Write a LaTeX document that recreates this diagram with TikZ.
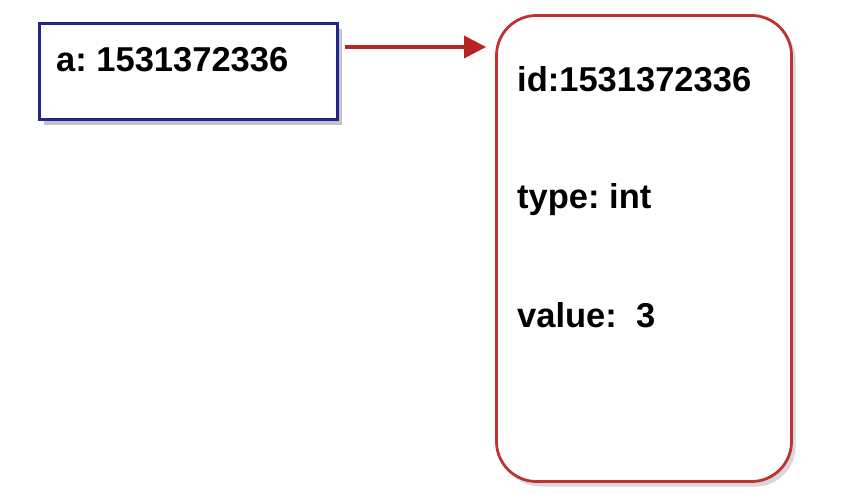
\documentclass[tikz,border=0pt]{standalone}
\usepackage{fontspec}
\setmainfont{Liberation Sans}
\frenchspacing
\usepackage{tikz}
\usetikzlibrary{shadows}
\usetikzlibrary{arrows.meta}

\definecolor{varblue}{RGB}{35,35,140}
\definecolor{objred}{RGB}{190,50,50}
\definecolor{linkred}{RGB}{185,35,35}

\begin{document}
\begin{tikzpicture}[x=1pt,y=1pt,
    every node/.style={font=\fontsize{34.5}{40}\selectfont\bfseries},
    varbox/.style={draw=varblue,line width=3pt,fill=white,minimum width=298pt,minimum height=96pt,
      drop shadow={shadow xshift=5pt,shadow yshift=-5pt,fill=black!45}},
    objbox/.style={draw=objred,line width=2.8pt,fill=white,rounded corners=40pt,minimum width=295pt,minimum height=466pt,
      drop shadow={shadow xshift=4pt,shadow yshift=-5pt,fill=black!30}},
    field/.style={anchor=base west,inner sep=0pt},
    link/.style={draw=linkred,line width=3.5pt,-{Triangle[length=22pt,width=22pt]}}]
      \useasboundingbox (0,0) rectangle (848,-502);
      \node[varbox] (var) at (188,-72) {};
      \node[objbox] (obj) at (644,-248.5) {};
      \node[field] (name) at (56,-72) {a: 1531372336};
      \node[field] (id) at (517,-92) {id:1531372336};
      \node[field] (type) at (517,-209) {type: int};
      \node[field] (value) at (517,-327) {value:\ \ 3};
      \coordinate (tail) at ([yshift=25pt]var.east);
      \draw[link,shorten <=6pt,shorten >=9pt] (tail) -- (tail -| obj.west);
    \end{tikzpicture}
\end{document}
